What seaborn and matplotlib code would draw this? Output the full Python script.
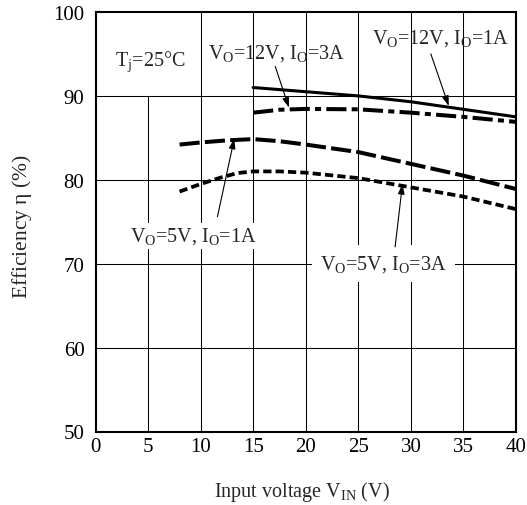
import matplotlib
matplotlib.use("Agg")
import matplotlib.pyplot as plt
import seaborn as sns
import pandas as pd

# ---- data ----
x_12v_1a = [15, 20, 25, 30, 35, 40]
y_12v_1a = [91.0, 90.5, 90.0, 89.3, 88.4, 87.5]

x_12v_3a = [15, 17.5, 20, 25, 30, 35, 40]
y_12v_3a = [88.0, 88.35, 88.45, 88.4, 88.0, 87.5, 86.9]

x_5v_1a = [8, 10, 12.5, 15, 17.5, 20, 25, 30, 35, 40]
y_5v_1a = [84.2, 84.45, 84.7, 84.85, 84.6, 84.2, 83.3, 81.9, 80.5, 78.9]

x_5v_3a = [8, 10, 12, 13.5, 15, 17.5, 20, 25, 30, 35, 40]
y_5v_3a = [78.6, 79.5, 80.3, 80.8, 81.0, 81.0, 80.85, 80.2, 79.1, 78.0, 76.5]

x_ticks = [0, 5, 10, 15, 20, 25, 30, 35, 40]
y_ticks = [50, 60, 70, 80, 90, 100]

sns.set_style("white")
plt.rcParams["font.family"] = ["Liberation Serif", "DejaVu Serif"]
plt.rcParams["mathtext.fontset"] = "custom"
plt.rcParams["mathtext.rm"] = "Liberation Serif"
plt.rcParams["mathtext.it"] = "Liberation Serif:italic"

fig = plt.figure(figsize=(5.27, 5.06), dpi=100)
ax = fig.add_axes([95.5 / 527, 1 - 432.5 / 506, (516 - 95.5) / 527, (432.5 - 13) / 506])

# grid
for xv in x_ticks[1:-1]:
    top = 90 if xv == 5 else 100
    ax.plot([xv, xv], [50, top], color="black", lw=0.75, zorder=1)
for yv in y_ticks[1:-1]:
    ax.axhline(yv, color="black", lw=0.75, zorder=1)

def series(x, y):
    return pd.DataFrame({"vin": x, "eff": y})

sns.lineplot(data=series(x_12v_1a, y_12v_1a), x="vin", y="eff", ax=ax,
             color="black", lw=2.2, zorder=3)
sns.lineplot(data=series(x_12v_3a, y_12v_3a), x="vin", y="eff", ax=ax,
             color="black", lw=2.9, dashes=(5, 1.3, 1.5, 1.3), zorder=3)
sns.lineplot(data=series(x_5v_1a, y_5v_1a), x="vin", y="eff", ax=ax,
             color="black", lw=2.9, dashes=(5, 1.3), zorder=3)
sns.lineplot(data=series(x_5v_3a, y_5v_3a), x="vin", y="eff", ax=ax,
             color="black", lw=2.7, dashes=(2.2, 1.1), zorder=3)

ax.set_xlim(0, 40)
ax.set_ylim(50, 100)
ax.set_xticks(x_ticks)
ax.set_yticks(y_ticks)
ax.tick_params(axis="both", length=0, labelsize=15, colors="black")
ax.tick_params(axis="x", pad=4)
ax.tick_params(axis="y", pad=8)
for sp in ax.spines.values():
    sp.set_visible(True)
    sp.set_color("black")
    sp.set_linewidth(1.5)

ax.set_xlabel(r"Input voltage V$_{\mathrm{IN}}$ (V)", fontsize=14.5, va="center")
ax.set_ylabel(r"Efficiency $\mathrm{\eta}$ (%)", fontsize=15.5, va="center")
ax.xaxis.set_label_coords(0.49, (432.5 - 492) / 419.5)
ax.yaxis.set_label_coords((22 - 95.5) / 420.5, (432.5 - 227) / 419.5)

fs = 14.5
ax.text(1.85, 94.2, r"T$_{\mathrm{j}}$=25°C", fontsize=fs, va="center", ha="left", zorder=5)
ax.text(10.7, 95.2, r"V$_{\mathrm{O}}$=12V, I$_{\mathrm{O}}$=3A", fontsize=fs, va="center", ha="left", zorder=5)
ax.text(26.3, 97.0, r"V$_{\mathrm{O}}$=12V, I$_{\mathrm{O}}$=1A", fontsize=fs, va="center", ha="left", zorder=5)
ax.text(3.3, 73.3, r"V$_{\mathrm{O}}$=5V, I$_{\mathrm{O}}$=1A", fontsize=fs, va="center", ha="left", zorder=5,
        bbox=dict(facecolor="white", edgecolor="none", pad=2))
ax.text(21.4, 70.0, r"V$_{\mathrm{O}}$=5V, I$_{\mathrm{O}}$=3A", fontsize=fs, va="center", ha="left", zorder=5,
        bbox=dict(facecolor="white", edgecolor="none", pad=6))

arrow = dict(arrowstyle="-|>,head_length=0.6,head_width=0.2", color="black", lw=0.8,
             shrinkA=0, shrinkB=0)
ax.annotate("", xy=(18.4, 88.6), xytext=(17.1, 93.5), arrowprops=arrow, zorder=6)
ax.annotate("", xy=(33.6, 88.8), xytext=(31.9, 95.0), arrowprops=arrow, zorder=6)
ax.annotate("", xy=(13.2, 84.9), xytext=(11.6, 75.6), arrowprops=arrow, zorder=6)
ax.annotate("", xy=(29.2, 79.5), xytext=(28.5, 72.0), arrowprops=arrow, zorder=6)

fig.savefig("out.png", dpi=100)
